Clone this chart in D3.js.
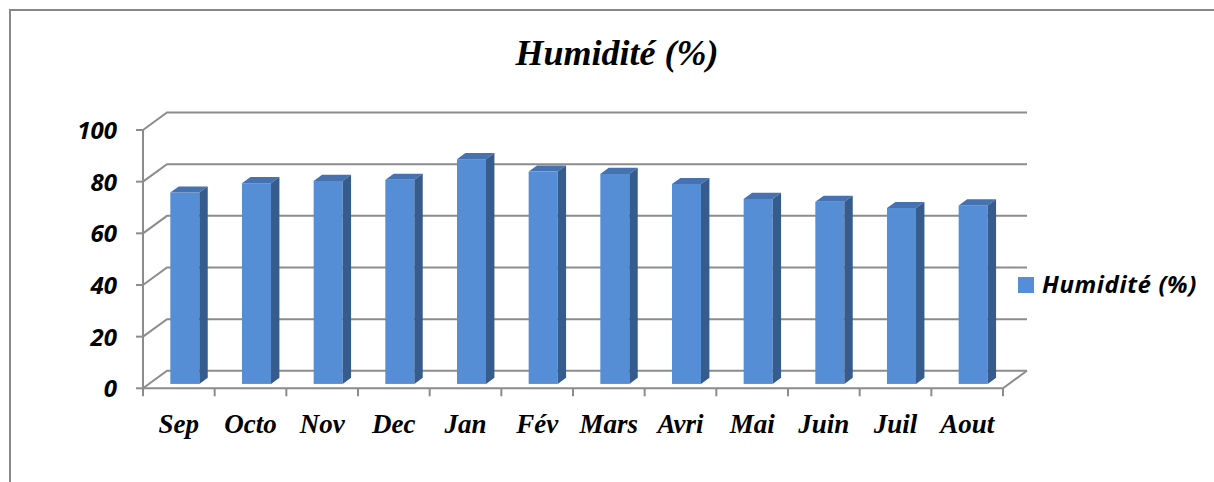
<!DOCTYPE html>
<html>
<head>
<meta charset="utf-8">
<script src="https://cdn.jsdelivr.net/npm/d3@7"></script>
<style>
  body { margin: 0; background: #fff; }
  svg { display: block; }
</style>
</head>
<body>
<div id="chart"></div>
<script>
var months = ['Sep', 'Octo', 'Nov', 'Dec', 'Jan', 'Fév', 'Mars', 'Avri', 'Mai', 'Juin', 'Juil', 'Aout'];
var humidity = [74.1, 77.7, 78.6, 79.0, 87.0, 82.2, 81.3, 77.4, 71.6, 70.5, 68.1, 69.1];
var yTicks = [0, 20, 40, 60, 80, 100];
var seriesName = 'Humidité (%)';
var title = 'Humidité (%)';

var W = 1214, H = 482;
var DX = 24, DY = -17.5;      // depth of the 3d box
var F0 = 0.25, FD = 0.35;     // where bars sit in depth, and how deep they are
var GRID = '#8c8c8c';
var FRONT = '#558ed5', TOP = '#4673b0', SIDE = '#365c8d';
var SANS = '"Open Sans", Lato, sans-serif';

var svg = d3.select('#chart').append('svg')
    .attr('width', W)
    .attr('height', H);

// outer frame (only top and left visible)
svg.append('path')
    .attr('d', 'M10,' + H + 'V10H' + W)
    .attr('fill', 'none')
    .attr('stroke', '#888')
    .attr('stroke-width', 2);

var x = d3.scaleBand().domain(months).range([143, 1003]).padding(0);
var y = d3.scaleLinear().domain([0, 100]).range([388.3, 130]);
var x0 = x.range()[0], x1 = x.range()[1];

// gridlines on side wall and back wall
svg.append('g').selectAll('path').data(yTicks)
    .enter().append('path')
        .attr('d', function (t) {
            return 'M' + x0 + ',' + y(t) + 'L' + (x0 + DX) + ',' + (y(t) + DY) + 'H' + (x1 + DX);
        })
        .attr('fill', 'none')
        .attr('stroke', GRID)
        .attr('stroke-width', 2);

// bars
var bw = x.bandwidth() * 0.405;
var bars = svg.append('g').selectAll('g').data(months)
    .enter().append('g');

var geom = function (d, i) {
    var fx = x(d) + (x.bandwidth() - bw) / 2 + F0 * DX;
    return {
        fx: fx,
        top: y(humidity[i]) + F0 * DY,
        bot: y(0) + F0 * DY,
        ddx: FD * DX,
        ddy: FD * DY
    };
};

bars.append('rect')
    .attr('x', function (d, i) { return geom(d, i).fx; })
    .attr('y', function (d, i) { return geom(d, i).top; })
    .attr('width', bw)
    .attr('height', function (d, i) { var g = geom(d, i); return g.bot - g.top; })
    .attr('fill', FRONT);

bars.append('path')
    .attr('d', function (d, i) {
        var g = geom(d, i);
        return 'M' + g.fx + ',' + g.top + 'l' + g.ddx + ',' + g.ddy + 'h' + bw + 'l' + (-g.ddx) + ',' + (-g.ddy) + 'Z';
    })
    .attr('fill', TOP);

bars.append('path')
    .attr('d', function (d, i) {
        var g = geom(d, i);
        return 'M' + (g.fx + bw) + ',' + g.top + 'l' + g.ddx + ',' + g.ddy + 'V' + (g.bot + g.ddy) + 'l' + (-g.ddx) + ',' + (-g.ddy) + 'Z';
    })
    .attr('fill', SIDE);

// front axes
var axis = svg.append('g')
    .attr('fill', 'none')
    .attr('stroke', GRID)
    .attr('stroke-width', 2);

axis.append('path')
    .attr('d', 'M' + x0 + ',' + y(100) + 'V' + y(0) + 'H' + x1 + 'l' + DX + ',' + DY);

axis.selectAll('.ytick').data(yTicks)
    .enter().append('path')
        .attr('d', function (t) { return 'M' + (x0 - 7) + ',' + y(t) + 'H' + x0; });

axis.selectAll('.xtick').data(d3.range(months.length + 1))
    .enter().append('path')
        .attr('d', function (i) {
            var xx = x0 + i * x.step();
            return 'M' + xx + ',' + y(0) + 'v8';
        });

// y labels
svg.append('g').selectAll('text').data(yTicks)
    .enter().append('text')
        .attr('x', 117)
        .attr('y', function (t) { return y(t) + 9; })
        .attr('text-anchor', 'end')
        .style('font-family', SANS)
        .style('font-weight', 'bold')
        .style('font-style', 'italic')
        .style('font-size', '24px')
        .text(function (t) { return t; });

// x labels
svg.append('g').selectAll('text').data(months)
    .enter().append('text')
        .attr('x', function (d) { return x(d) + x.bandwidth() / 2; })
        .attr('y', 433)
        .attr('text-anchor', 'middle')
        .style('font-family', '"Liberation Serif", serif')
        .style('font-weight', 'bold')
        .style('font-style', 'italic')
        .style('font-size', '27px')
        .text(function (d) { return d; });

// title
svg.append('text')
    .attr('x', 617)
    .attr('y', 65)
    .attr('text-anchor', 'middle')
    .style('font-family', '"Liberation Serif", serif')
    .style('font-weight', 'bold')
    .style('font-style', 'italic')
    .style('font-size', '36px')
    .text(title);

// legend
var legend = svg.append('g').attr('transform', 'translate(1018,277)');
legend.append('rect')
    .attr('width', 16)
    .attr('height', 16)
    .attr('fill', FRONT);
legend.append('text')
    .attr('x', 24)
    .attr('y', 16)
    .style('font-family', SANS)
    .style('font-weight', 'bold')
    .style('font-style', 'italic')
    .style('font-size', '24px')
    .style('letter-spacing', '0.6px')
    .text(seriesName);
</script>
</body>
</html>
